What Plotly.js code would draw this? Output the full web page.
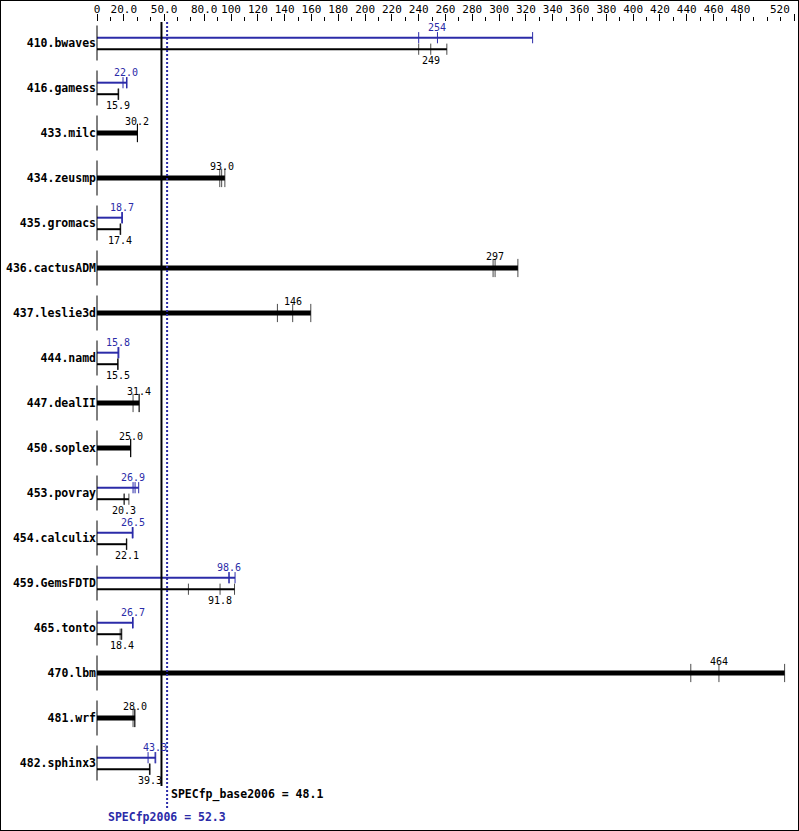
<!DOCTYPE html>
<html>
<head>
<meta charset="utf-8">
<script src="https://cdn.plot.ly/plotly-3.0.1.min.js"></script>
<style>
html,body{margin:0;padding:0;background:#fff;}
#chart{width:797px;height:829px;border:1px solid #000;}
</style>
</head>
<body>
<div id="chart"></div>
<script>
const benchmarks = ['410.bwaves','416.gamess','433.milc','434.zeusmp','435.gromacs','436.cactusADM','437.leslie3d','444.namd','447.dealII','450.soplex','453.povray','454.calculix','459.GemsFDTD','465.tonto','470.lbm','481.wrf','482.sphinx3'];
const baseRuns = [[240,249,261],[15.8,15.9,16.2],[30.1,30.2,30.2],[91.6,93.0,95.4],[17.3,17.4,17.7],[295.5,297,314],[134.6,146,159.5],[15.5,15.5,15.7],[26.9,31.4,31.5],[25.0,25.0,25.3],[20.2,20.3,23.8],[21.9,22.1,22.2],[68.2,91.8,102.6],[17.3,18.4,18.4],[443,464,513],[26.9,28.0,28.4],[39.1,39.3,39.6]];
const peakRuns = [[240,254,325],[19.4,22.0,22.4],null,null,[18.6,18.7,18.9],null,null,[15.8,15.8,16.3],null,null,[26.9,28.4,31.1],[26.3,26.5,26.9],[98.4,98.6,103],[26.5,26.7,26.9],null,null,[38.1,43.3,43.8]];
const baseMedian = [249,15.9,30.2,93.0,17.4,297,146,15.5,31.4,25.0,20.3,22.1,91.8,18.4,464,28.0,39.3];
const peakMedian = [254,22.0,null,null,18.7,null,null,15.8,null,null,26.9,26.5,98.6,26.7,null,null,43.3];
const baseGeomean = 48.1;
const peakGeomean = 52.3;
const tickVals = [0,20,50,80,100,120,140,160,180,200,220,240,260,280,300,320,340,360,380,400,420,440,460,480,520];
const tickText = ['0','20.0','50.0','80.0','100','120','140','160','180','200','220','240','260','280','300','320','340','360','380','400','420','440','460','480','520'];

const BLUE = '#2b2ba8';
const MONO = 'DejaVu Sans Mono';
const n = benchmarks.length;
const offPeak = -0.118, offBase = 0.138;
const fmt = v => v >= 100 ? String(Math.round(v)) : v.toFixed(1);

const thinBase = {x:[],y:[]}, thinPeak = {x:[],y:[]}, thick = {x:[],y:[]};
const tkBase = {x:[],y:[],s:[]}, tkPeak = {x:[],y:[]}, start = {x:[],y:[]};
const annotations = [];

for (let i = 0; i < n; i++) {
  const b = baseRuns[i], p = peakRuns[i];
  start.x.push(0); start.y.push(i);
  if (p) {
    const yp = i + offPeak, yb = i + offBase;
    thinPeak.x.push(0, Math.max(...p), null); thinPeak.y.push(yp, yp, null);
    thinBase.x.push(0, Math.max(...b), null); thinBase.y.push(yb, yb, null);
    p.forEach(v => { tkPeak.x.push(v); tkPeak.y.push(yp); });
    b.forEach(v => { tkBase.x.push(v); tkBase.y.push(yb); tkBase.s.push(8); });
    annotations.push({x: peakMedian[i], y: yp, yshift: 10.5, text: fmt(peakMedian[i]), showarrow:false,
      xanchor:'center', yanchor:'middle', font:{family:MONO, size:10, color:BLUE}});
    annotations.push({x: baseMedian[i], y: yb, yshift: -11.5, text: fmt(baseMedian[i]), showarrow:false,
      xanchor:'center', yanchor:'middle', font:{family:MONO, size:10, color:'#000'}});
  } else {
    thick.x.push(0, Math.max(...b), null); thick.y.push(i, i, null);
    b.forEach(v => { tkBase.x.push(v); tkBase.y.push(i); tkBase.s.push(13); });
    annotations.push({x: baseMedian[i], y: i, yshift: 11.5, text: fmt(baseMedian[i]), showarrow:false,
      xanchor:'center', yanchor:'middle', font:{family:MONO, size:10, color:'#000'}});
  }
}

annotations.push({x: peakGeomean, y: n - 0.29, xshift: 2, text: 'SPECfp_base2006 = ' + fmt(baseGeomean), showarrow:false,
  xanchor:'left', yanchor:'middle', font:{family:MONO, size:11.5, weight:'bold', color:'#000'}});
annotations.push({x: peakGeomean, yref:'paper', y: -0.0115, text: 'SPECfp2006 = ' + fmt(peakGeomean), showarrow:false,
  xanchor:'center', yanchor:'middle', font:{family:MONO, size:11.5, weight:'bold', color:BLUE}});
// last axis label sits flush with the right edge, as in the reference
const lastIdx = tickVals.length - 1;
annotations.push({x: tickVals[lastIdx], xref:'x', yref:'paper', y: 1.0165, xshift: -2, text: tickText[lastIdx], showarrow:false,
  xanchor:'right', yanchor:'middle', font:{family:MONO, size:11, color:'#000'}});
const axisText = tickText.map((t, i) => i === lastIdx ? '' : t);

const traces = [
  {x: thinPeak.x, y: thinPeak.y, mode:'lines', line:{color:BLUE, width:2}, hoverinfo:'skip'},
  {x: thinBase.x, y: thinBase.y, mode:'lines', line:{color:'#000', width:2}, hoverinfo:'skip'},
  {x: thick.x, y: thick.y, mode:'lines', line:{color:'#000', width:5}, hoverinfo:'skip'},
  {x: tkPeak.x, y: tkPeak.y, mode:'markers', marker:{symbol:'line-ns', size:8, line:{color:BLUE, width:1}}, hoverinfo:'skip'},
  {x: tkBase.x, y: tkBase.y, mode:'markers', marker:{symbol:'line-ns', size:tkBase.s, line:{color:'#000', width:1}}, hoverinfo:'skip'},
  {x: start.x, y: start.y, mode:'markers', marker:{symbol:'line-ns', size:25, line:{color:'#000', width:1}}, hoverinfo:'skip', cliponaxis:false}
];

const layout = {
  width: 797, height: 829,
  margin: {l:96, r:4, t:21, b:22, pad:0},
  paper_bgcolor:'#fff', plot_bgcolor:'#fff',
  showlegend:false,
  xaxis: {range:[0,520], side:'top', tickmode:'array', tickvals:tickVals, ticktext:axisText,
    ticks:'outside', ticklen:7, tickwidth:1, tickcolor:'#000', ticklabelstandoff:-3, ticklabeloverflow:'allow',
    minor:{tick0:0, dtick:10, ticks:'outside', ticklen:4, tickwidth:1, tickcolor:'#000'},
    showgrid:false, zeroline:false, showline:false, fixedrange:true,
    tickfont:{family:MONO, size:11, color:'#000'}},
  yaxis: {range:[n - 0.0, -0.4667], tickmode:'array', tickvals:benchmarks.map((_, i) => i), ticktext:benchmarks,
    ticks:'', showgrid:false, zeroline:false, showline:false, fixedrange:true,
    tickfont:{family:MONO, size:11.5, weight:'bold', color:'#000'}},
  shapes: [
    {type:'line', xref:'x', yref:'y', x0:baseGeomean, x1:baseGeomean, y0:-0.4667, y1:n - 0.49, line:{color:'#000', width:2}},
    {type:'line', xref:'x', yref:'paper', x0:peakGeomean, x1:peakGeomean, y0:0, y1:1, line:{color:BLUE, width:2, dash:'2px,2px'}}
  ],
  annotations: annotations
};

Plotly.newPlot('chart', traces, layout, {displayModeBar:false, staticPlot:true});
</script>
</body>
</html>
